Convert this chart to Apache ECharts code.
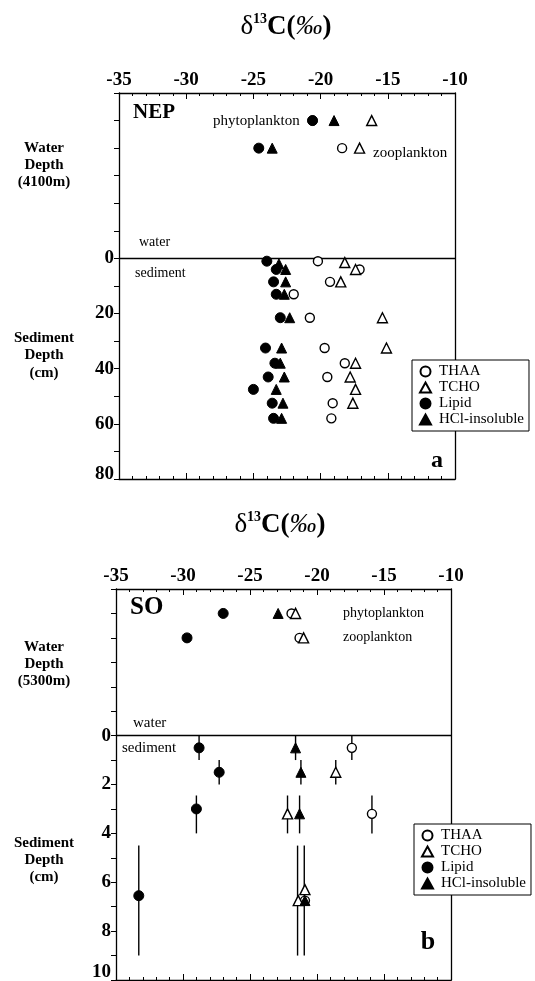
<!DOCTYPE html>
<html>
<head>
<meta charset="utf-8">
<script src="https://cdn.jsdelivr.net/npm/echarts@6/dist/echarts.min.js"></script>
<style>
html, body { margin: 0; padding: 0; background: #fff; }
#main { width: 535px; height: 981px; }
</style>
</head>
<body>
<div id="main"></div>
<script>
// d13C values [x, depth]; negative depth = water column rows (phyto / zoo)
var nepThaa = [[-20.6, -50], [-18.4, -40], [-20.2, 1], [-17.1, 4], [-19.3, 8.5], [-22.0, 13], [-20.8, 21.5], [-19.7, 32.5], [-18.2, 38], [-19.5, 43], [-19.1, 52.5], [-19.2, 58]];
var nepTcho = [[-16.2, -50], [-17.1, -40], [-18.2, 1.5], [-17.4, 4], [-18.5, 8.5], [-15.4, 21.5], [-15.1, 32.5], [-17.4, 38], [-17.8, 43], [-17.4, 47.5], [-17.6, 52.5]];
var nepLipid = [[-20.6, -50], [-24.6, -40], [-24.0, 1], [-23.3, 4], [-23.5, 8.5], [-23.3, 13], [-23.0, 21.5], [-24.1, 32.5], [-23.4, 38], [-23.9, 43], [-25.0, 47.5], [-23.6, 52.5], [-23.5, 58]];
var nepHcl = [[-19.0, -50], [-23.6, -40], [-23.1, 2], [-22.6, 4], [-22.6, 8.5], [-22.7, 13], [-22.3, 21.5], [-22.9, 32.5], [-23.0, 38], [-22.7, 43], [-23.3, 47.5], [-22.8, 52.5], [-22.9, 58]];

var soThaa = [[-21.9, -5], [-21.3, -4], [-17.4, 0.5], [-15.9, 3.2], [-20.9, 6.75]];
var soTcho = [[-21.6, -5], [-21.0, -4], [-18.6, 1.5], [-22.2, 3.2], [-21.4, 6.75], [-20.9, 6.3]];
var soLipid = [[-27.0, -5], [-29.7, -4], [-28.8, 0.5], [-27.3, 1.5], [-29.0, 3.0], [-33.3, 6.55]];
var soHcl = [[-22.9, -5], [-21.6, 0.5], [-21.2, 1.5], [-21.3, 3.2], [-20.9, 6.75]];
// depth ranges of the sediment slices [x, top, bottom]
var soErrBars = [[-28.8, 0, 1], [-27.3, 1, 2], [-29.0, 2.45, 4], [-33.3, 4.5, 9], [-21.6, 0, 1], [-21.2, 1, 2], [-21.3, 2.45, 4], [-22.2, 2.45, 4], [-17.4, 0, 1], [-18.6, 1, 2], [-15.9, 2.45, 4], [-21.45, 4.5, 9], [-20.95, 4.5, 9]];

var nepDepthLabels = [0, 20, 40, 60, 80];
var soDepthLabels = [0, 2, 4, 6, 8, 10];
var legendNames = ['THAA', 'TCHO', 'Lipid', 'HCl-insoluble'];

var serif = '"Liberation Serif", "DejaVu Serif", serif';
var myChart = echarts.init(document.getElementById('main'));

function xAx(grid, pos, labels) {
    return {
        gridIndex: grid, type: 'value', position: pos,
        min: -35, max: -10, interval: 5,
        axisLine: { show: true, onZero: false, lineStyle: { color: '#000', width: 1.3 } },
        axisTick: { show: true, inside: true, length: 6, lineStyle: { color: '#000' } },
        minorTick: { show: true, splitNumber: 5, length: 3, lineStyle: { color: '#000' } },
        axisLabel: { show: labels, color: '#000', fontFamily: serif, fontWeight: 'bold', fontSize: 19, margin: 3 },
        splitLine: { show: false }
    };
}
function yAx(grid, min, max, interval, shown, left, lift) {
    var lab = { fontFamily: serif, fontWeight: 'bold', fontSize: 19, color: '#000' };
    return {
        gridIndex: grid, type: 'value', position: left ? 'left' : 'right', inverse: true,
        min: min, max: max, interval: interval,
        axisLine: { show: true, onZero: false, lineStyle: { color: '#000', width: 1.3 } },
        axisTick: { show: left, length: 5, lineStyle: { color: '#000' } },
        axisLabel: {
            show: left, color: '#000', fontFamily: serif, fontWeight: 'bold', fontSize: 19, margin: 5,
            formatter: function (v) {
                if (shown.indexOf(v) < 0) return '';
                // bottom label sits above the corner like the original
                return v === max ? '{e|' + v + '}' : String(v);
            },
            rich: { e: Object.assign({ padding: [0, 0, lift || 0, 0] }, lab) }
        },
        splitLine: { show: false }
    };
}

var openStyle = { color: '#fff', borderColor: '#000', borderWidth: 1.4, opacity: 1 };
var fillStyle = { color: '#000', borderColor: '#000', borderWidth: 1, opacity: 1 };
function pts(name, data, ax, sym, size, style) {
    return {
        name: name, type: 'scatter', xAxisIndex: ax, yAxisIndex: ax,
        data: data, symbol: sym, symbolSize: size, itemStyle: style, z: 5,
        emphasis: { disabled: true }
    };
}
function zeroLine(s) {
    s.markLine = {
        silent: true, symbol: ['none', 'none'], label: { show: false },
        lineStyle: { color: '#000', width: 1.3, type: 'solid', opacity: 1 },
        data: [{ yAxis: 0 }]
    };
    return s;
}

function txt(x, y, s, font, align) {
    return {
        type: 'text', x: x, y: y,
        style: { text: s, font: font, fill: '#000', textAlign: align || 'left', textVerticalAlign: 'middle' }
    };
}
function title(x, y) {
    return {
        type: 'text', x: x, y: y,
        style: {
            text: '{d|δ}{s|13}{b|C(}{i|‰}{b|)}', textAlign: 'center', textVerticalAlign: 'middle', fill: '#000',
            rich: {
                d: { fontFamily: serif, fontSize: 27, lineHeight: 30 },
                s: { fontFamily: serif, fontSize: 14, fontWeight: 'bold', verticalAlign: 'top', lineHeight: 30 },
                b: { fontFamily: serif, fontSize: 27, fontWeight: 'bold', lineHeight: 30 },
                i: { fontFamily: serif, fontSize: 27, fontStyle: 'italic', lineHeight: 30 }
            }
        }
    };
}
var sideFont = 'bold 15px ' + serif;

function legendBox(left, top) {
    return {
        left: left, top: top, orient: 'vertical', data: legendNames, selectedMode: false,
        itemWidth: 11, itemHeight: 10, itemGap: 1,
        padding: [4, 5, 4, 7], backgroundColor: '#fff', borderColor: '#000', borderWidth: 1,
        textStyle: { fontFamily: serif, fontSize: 15, lineHeight: 15, color: '#000', padding: [0, 0, 0, 3] }
    };
}

var option = {
    animation: false,
    grid: [
        { left: 119, top: 93, width: 336, height: 386, outerBoundsMode: 'none', containLabel: false },
        { left: 116, top: 589, width: 335, height: 391, outerBoundsMode: 'none', containLabel: false }
    ],
    xAxis: [xAx(0, 'top', true), xAx(0, 'bottom', false), xAx(1, 'top', true), xAx(1, 'bottom', false)],
    yAxis: [
        yAx(0, -60, 80, 10, nepDepthLabels, true, 10), yAx(0, -60, 80, 10, [], false),
        yAx(1, -6, 10, 1, soDepthLabels, true, 16), yAx(1, -6, 10, 1, [], false)
    ],
    legend: [legendBox(412, 360), legendBox(414, 824)],
    series: [
        zeroLine(pts('THAA', nepThaa, 0, 'circle', 9, openStyle)),
        pts('TCHO', nepTcho, 0, 'triangle', 10, openStyle),
        pts('Lipid', nepLipid, 0, 'circle', 10, fillStyle),
        pts('HCl-insoluble', nepHcl, 0, 'triangle', 10, fillStyle),
        {
            type: 'custom', xAxisIndex: 2, yAxisIndex: 2, data: soErrBars, z: 2, silent: true,
            encode: { x: 0, y: [1, 2] },
            renderItem: function (params, api) {
                var p0 = api.coord([api.value(0), api.value(1)]);
                var p1 = api.coord([api.value(0), api.value(2)]);
                return { type: 'line', shape: { x1: p0[0], y1: p0[1], x2: p1[0], y2: p1[1] }, style: { stroke: '#000', lineWidth: 1.4 } };
            }
        },
        zeroLine(pts('THAA', soThaa, 2, 'circle', 9, openStyle)),
        pts('TCHO', soTcho, 2, 'triangle', 10, openStyle),
        pts('Lipid', soLipid, 2, 'circle', 10, fillStyle),
        pts('HCl-insoluble', soHcl, 2, 'triangle', 10, fillStyle)
    ],
    graphic: [
        title(286, 27),
        title(280, 525),
        // panel a notes
        txt(133, 113, 'NEP', 'bold 21px ' + serif),
        txt(213, 121, 'phytoplankton', '15px ' + serif),
        txt(373, 153, 'zooplankton', '15px ' + serif),
        txt(139, 242, 'water', '14px ' + serif),
        txt(135, 273, 'sediment', '14px ' + serif),
        txt(437, 461, 'a', 'bold 24px ' + serif, 'center'),
        txt(44, 148, 'Water', sideFont, 'center'),
        txt(44, 165, 'Depth', sideFont, 'center'),
        txt(44, 182, '(4100m)', sideFont, 'center'),
        txt(44, 338, 'Sediment', sideFont, 'center'),
        txt(44, 355, 'Depth', sideFont, 'center'),
        txt(44, 373, '(cm)', sideFont, 'center'),
        // panel b notes
        txt(130, 608, 'SO', 'bold 25px ' + serif),
        txt(343, 613, 'phytoplankton', '14px ' + serif),
        txt(343, 637, 'zooplankton', '14px ' + serif),
        txt(133, 723, 'water', '15px ' + serif),
        txt(122, 748, 'sediment', '15px ' + serif),
        txt(428, 942, 'b', 'bold 26px ' + serif, 'center'),
        txt(44, 647, 'Water', sideFont, 'center'),
        txt(44, 664, 'Depth', sideFont, 'center'),
        txt(44, 681, '(5300m)', sideFont, 'center'),
        txt(44, 843, 'Sediment', sideFont, 'center'),
        txt(44, 860, 'Depth', sideFont, 'center'),
        txt(44, 877, '(cm)', sideFont, 'center')
    ]
};
myChart.setOption(option);
</script>
</body>
</html>
